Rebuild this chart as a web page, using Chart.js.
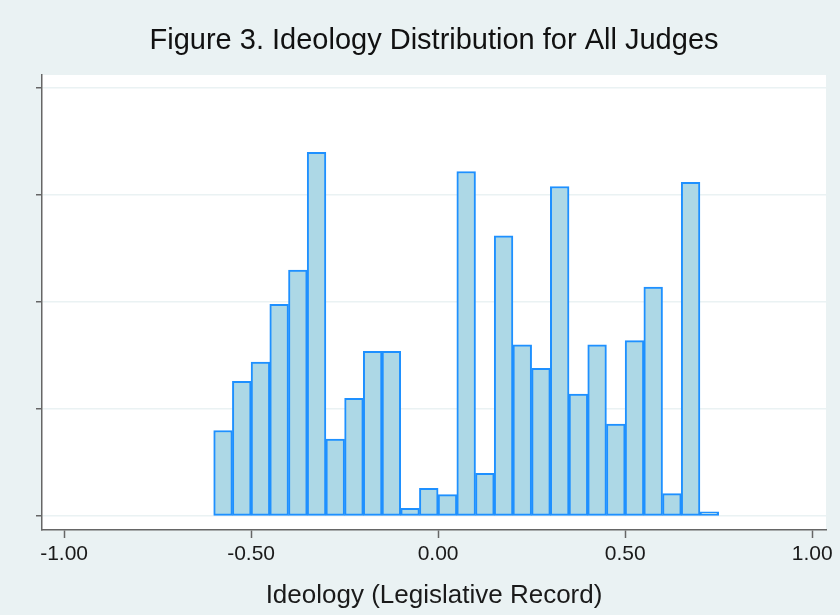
<!DOCTYPE html>
<html>
<head>
<meta charset="utf-8">
<script src="https://cdn.jsdelivr.net/npm/chart.js@4/dist/chart.umd.min.js"></script>
<style>
  html, body { margin: 0; padding: 0; background: #eaf2f3; }
  #wrap { width: 840px; height: 615px; }
</style>
</head>
<body>
<div id="wrap"><canvas id="c"></canvas></div>
<script>
    // histogram bins (centres, width 0.05) and density heights
    const binCenters = [-0.575, -0.525, -0.475, -0.425, -0.375, -0.325, -0.275, -0.225, -0.175,
                        -0.125, -0.075, -0.025, 0.025, 0.075, 0.125, 0.175, 0.225, 0.275,
                        0.325, 0.375, 0.425, 0.475, 0.525, 0.575, 0.625, 0.675, 0.725];
    const density = [0.40, 0.63, 0.72, 0.99, 1.15, 1.70, 0.36, 0.55, 0.77,
                     0.77, 0.036, 0.13, 0.10, 1.61, 0.20, 1.31, 0.80, 0.69,
                     1.54, 0.57, 0.80, 0.43, 0.82, 1.07, 0.105, 1.56, 0.02];
    const xTickValues = [-1, -0.5, 0, 0.5, 1];

    const FONT = "'Liberation Sans', Arial, sans-serif";
    const axisGray = '#666666';

    // white plot region + light backdrop
    const plotBg = {
        id: 'plotBg',
        beforeDraw(chart) {
            const { ctx, chartArea: a } = chart;
            ctx.save();
            ctx.fillStyle = '#eaf2f3';
            ctx.fillRect(0, 0, chart.width, chart.height);
            ctx.fillStyle = '#ffffff';
            ctx.fillRect(a.left, a.top, a.right - a.left, a.bottom - a.top);
            ctx.restore();
        }
    };

    new Chart(document.getElementById('c'), {
        type: 'bar',
        data: {
            datasets: [{
                data: binCenters.map((x, i) => ({ x: x, y: density[i] })),
                backgroundColor: '#add8e6',
                borderColor: '#1e90ff',
                borderWidth: 2,
                borderSkipped: false,
                barPercentage: 1,
                categoryPercentage: 1
            }]
        },
        options: {
            responsive: true,
            maintainAspectRatio: false,
            animation: false,
            layout: { padding: { left: 0, right: 14, top: 0, bottom: 0 } },
            scales: {
                x: {
                    type: 'linear',
                    offset: false,
                    min: -1.059,
                    max: 1.037,
                    afterBuildTicks: s => { s.ticks = xTickValues.map(v => ({ value: v })); },
                    afterFit: s => { s.height = 85; },
                    ticks: {
                        color: '#1a1a1a',
                        font: { family: FONT, size: 21 },
                        padding: 4,
                        maxRotation: 0,
                        callback: v => v.toFixed(2)
                    },
                    grid: { offset: false, drawOnChartArea: false, drawTicks: true, tickLength: 8, tickColor: axisGray, tickWidth: 1.5 },
                    border: { display: true, color: axisGray, width: 1.5 },
                    title: {
                        display: true,
                        text: 'Ideology (Legislative Record)',
                        color: '#1a1a1a',
                        font: { family: FONT, size: 26 },
                        padding: { top: 4, bottom: 4 }
                    }
                },
                y: {
                    min: -0.065,
                    max: 2.061,
                    afterFit: s => { s.width = 42; },
                    ticks: { display: false, stepSize: 0.5, includeBounds: false },
                    grid: { color: '#eaf2f3', lineWidth: 1.5, drawTicks: true, tickLength: 6, tickColor: axisGray, tickWidth: 1.5 },
                    border: { display: true, color: axisGray, width: 1.5 }
                }
            },
            plugins: {
                legend: { display: false },
                tooltip: { enabled: false },
                title: {
                    display: true,
                    fullSize: false,
                    text: 'Figure 3. Ideology Distribution for All Judges',
                    color: '#111111',
                    font: { family: FONT, size: 29, weight: 'normal' },
                    padding: { top: 24, bottom: 16.2 }
                }
            }
        },
        plugins: [plotBg]
    });
</script>
</body>
</html>
